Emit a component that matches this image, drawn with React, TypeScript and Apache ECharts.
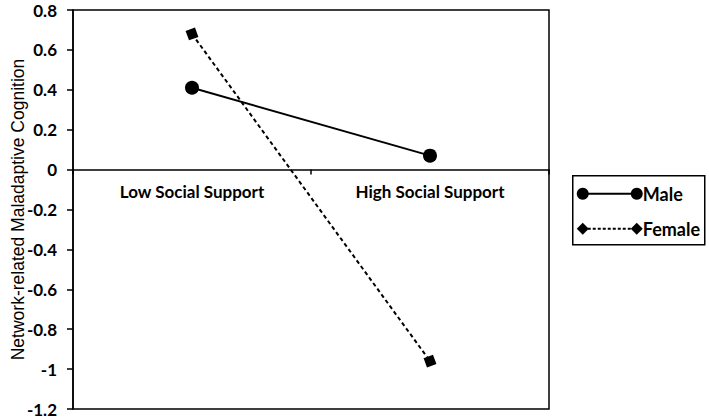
import React, { useEffect, useRef } from 'react';
import * as echarts from 'echarts';

const categories = ['Low Social Support', 'High Social Support'];
const maleValues = [0.41, 0.07];
const femaleValues = [0.68, -0.96];
const yMin = -1.2;
const yMax = 0.8;
const yStep = 0.2;
const yAxisTitle = 'Network-related Maladaptive Cognition';
const legendNames = ['Male', 'Female'];

const labelFont = 'Lato, "Open Sans", sans-serif';

const W = 709;
const H = 419;
const gridTop = 10;
const gridBottom = 10;

export default function App() {
  const chartRef = useRef<HTMLDivElement>(null);

  useEffect(() => {
    if (!chartRef.current) return;
    const chart = echarts.init(chartRef.current, undefined, { renderer: 'svg' });

    // put the category axis (and its labels) on the zero line
    const plotH = H - gridTop - gridBottom;
    const zeroOffset = -((0 - yMin) / (yMax - yMin)) * plotH;

    const option: any = {
      animation: false,
      backgroundColor: '#ffffff',
      grid: {
        left: 73,
        right: 160,
        top: gridTop,
        bottom: gridBottom,
        show: true,
        borderColor: '#000',
        borderWidth: 1.5,
        containLabel: false,
        outerBoundsMode: 'none'
      },
      xAxis: {
        type: 'category',
        data: categories,
        offset: zeroOffset,
        axisLine: { onZero: false, lineStyle: { color: '#000', width: 1.5 } },
        axisTick: { show: true, length: 5, lineStyle: { color: '#000', width: 1.5 } },
        axisLabel: {
          color: '#000',
          fontSize: 17,
          fontWeight: 'bold',
          fontFamily: labelFont,
          margin: 13
        },
        splitLine: { show: false }
      },
      yAxis: {
        type: 'value',
        min: yMin,
        max: yMax,
        interval: yStep,
        name: yAxisTitle,
        nameLocation: 'middle',
        nameGap: 46,
        nameMoveOverlap: false,
        nameTextStyle: {
          color: '#000',
          fontSize: 17.5,
          fontFamily: '"Liberation Sans", Arial, sans-serif'
        },
        axisLine: { show: true, lineStyle: { color: '#000', width: 1.5 } },
        axisTick: { show: true, length: 6, lineStyle: { color: '#000', width: 1.5 } },
        axisLabel: {
          color: '#000',
          fontSize: 17,
          fontWeight: 'bold',
          fontFamily: labelFont,
          margin: 16,
          formatter: (v: number) => String(Math.round(v * 10) / 10)
        },
        splitLine: { show: false }
      },
      series: [
        {
          name: legendNames[0],
          type: 'line',
          data: maleValues,
          symbol: 'circle',
          symbolSize: 14,
          itemStyle: { color: '#000' },
          lineStyle: { color: '#000', width: 2 }
        },
        {
          name: legendNames[1],
          type: 'line',
          data: femaleValues,
          symbol: 'rect',
          symbolSize: 10,
          symbolRotate: 20,
          itemStyle: { color: '#000' },
          lineStyle: { color: '#000', width: 2, type: [4, 3] }
        }
      ],
      graphic: [
        {
          type: 'group',
          left: 572,
          top: 175,
          children: [
            {
              type: 'rect',
              shape: { x: 0, y: 0, width: 132, height: 69 },
              style: { fill: '#fff', stroke: '#000', lineWidth: 1.5 }
            },
            {
              type: 'line',
              shape: { x1: 10, y1: 18, x2: 64, y2: 18 },
              style: { stroke: '#000', lineWidth: 2 }
            },
            { type: 'circle', shape: { cx: 10, cy: 18, r: 6 }, style: { fill: '#000' } },
            { type: 'circle', shape: { cx: 64, cy: 18, r: 6 }, style: { fill: '#000' } },
            {
              type: 'text',
              x: 70,
              y: 18,
              style: {
                text: legendNames[0],
                fill: '#000',
                font: `bold 18px ${labelFont}`,
                verticalAlign: 'middle'
              }
            },
            {
              type: 'line',
              shape: { x1: 10, y1: 53, x2: 64, y2: 53 },
              style: { stroke: '#000', lineWidth: 2, lineDash: [3, 2] }
            },
            {
              type: 'polygon',
              shape: { points: [[4, 53], [10, 47], [16, 53], [10, 59]] },
              style: { fill: '#000' }
            },
            {
              type: 'polygon',
              shape: { points: [[58, 53], [64, 47], [70, 53], [64, 59]] },
              style: { fill: '#000' }
            },
            {
              type: 'text',
              x: 70,
              y: 53,
              style: {
                text: legendNames[1],
                fill: '#000',
                font: `bold 18px ${labelFont}`,
                verticalAlign: 'middle'
              }
            }
          ]
        }
      ]
    };

    chart.setOption(option);
    return () => {
      chart.dispose();
    };
  }, []);

  return (
    <div
      ref={chartRef}
      style={{ position: 'fixed', left: 0, top: 0, width: W, height: H }}
    />
  );
}
